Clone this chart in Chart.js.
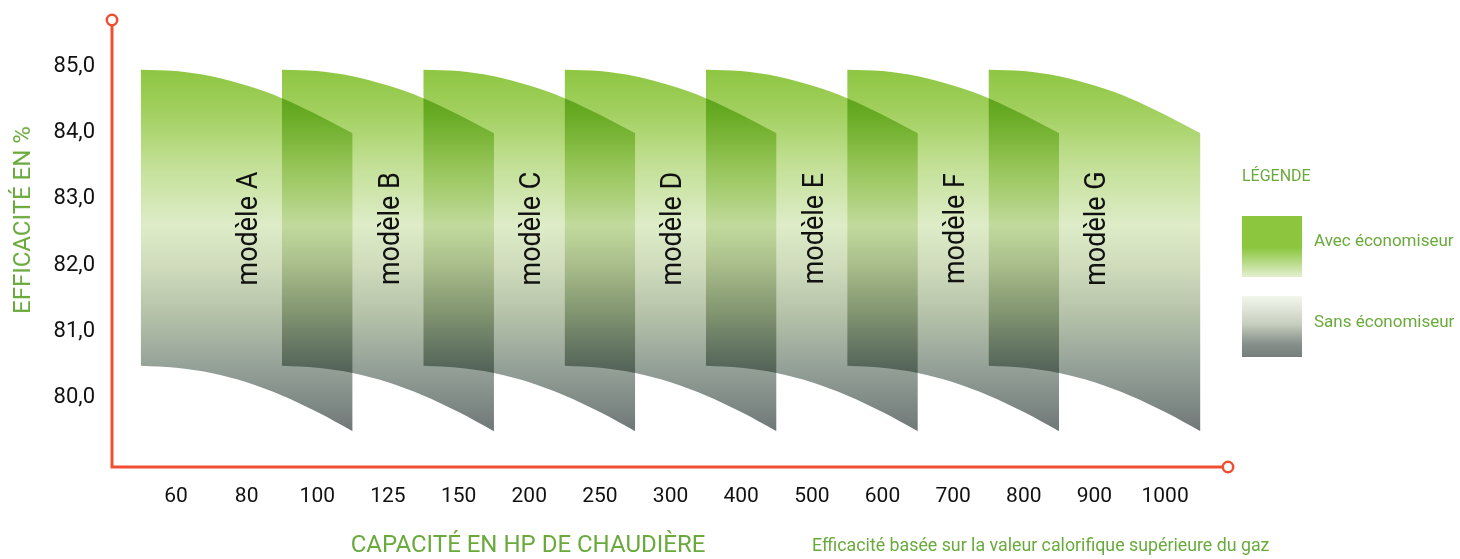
<!DOCTYPE html>
<html>
<head>
<meta charset="utf-8">
<script src="https://cdn.jsdelivr.net/npm/chart.js@4.4.1/dist/chart.umd.min.js"></script>
<style>
  body { margin: 0; background: #fff; }
  #wrap { position: relative; width: 1460px; height: 559px; font-family: Roboto, "Liberation Sans", sans-serif; }
  #chart { position: absolute; left: 0; top: 0; }
  .green { color: #6aaa3c; position: absolute; white-space: nowrap; }
  #ytitle { left: 22px; top: 220px; font-size: 24px; transform: translate(-50%, -50%) rotate(-90deg); }
  #xtitle { left: 528px; top: 544px; font-size: 24px; transform: translate(-50%, -50%); }
  #note { left: 812px; top: 544px; font-size: 17.8px; transform: translateY(-50%); }
  #legtitle { left: 1242px; top: 175px; font-size: 16px; transform: translateY(-50%); }
  .sw { position: absolute; left: 1242px; width: 60px; height: 61px; }
  #sw1 { top: 216px; background: linear-gradient(to bottom, #8cc63f 0%, #8cc63f 52%, #e3efcf 100%); }
  #sw2 { top: 296px; background: linear-gradient(to bottom, #f2f7eb 0%, #c8d0c0 45%, #87908b 78%, #767e7c 100%); }
  .legtxt { left: 1314px; font-size: 17px; transform: translateY(-50%); }
</style>
</head>
<body>
<div id="wrap">
  <canvas id="chart" width="1460" height="559"></canvas>
  <div class="green" id="ytitle">EFFICACITÉ EN %</div>
  <div class="green" id="xtitle">CAPACITÉ EN HP DE CHAUDIÈRE</div>
  <div class="green" id="note">Efficacité basée sur la valeur calorifique supérieure du gaz</div>
  <div class="green" id="legtitle">LÉGENDE</div>
  <div class="sw" id="sw1"></div>
  <div class="green legtxt" style="top:240px">Avec économiseur</div>
  <div class="sw" id="sw2"></div>
  <div class="green legtxt" style="top:321px">Sans économiseur</div>
</div>
<script>
// capacités (axe x), une position par étiquette
var capacities = ['60', '80', '100', '125', '150', '200', '250', '300', '400', '500', '600', '700', '800', '900', '1000'];
var models = ['modèle A', 'modèle B', 'modèle C', 'modèle D', 'modèle E', 'modèle F', 'modèle G'];
// début de chaque bande, en positions de l'axe x
var modelStart = [-0.5, 1.5, 3.5, 5.5, 7.5, 9.5, 11.5];
// forme des bandes (identique pour tous les modèles)
var curveOffset = [0, 0.5, 1, 1.5, 2, 2.5, 3];
var withEco = [84.95, 84.93, 84.85, 84.71, 84.52, 84.27, 83.99];
var withoutEco = [80.48, 80.45, 80.37, 80.23, 80.03, 79.78, 79.49];
var yTicks = [80, 81, 82, 83, 84, 85];

var red = '#ef4f30';

function bandGradient(c) {
    var chart = c.chart;
    var y = chart.scales.y;
    if (!chart.chartArea || !y) return '#b5d48a';
    var g = chart.ctx.createLinearGradient(0, y.getPixelForValue(85), 0, y.getPixelForValue(79.5));
    var stops = [
        [85.0, 'rgb(140,198,63)'],
        [84.3, 'rgb(162,208,95)'],
        [83.5, 'rgb(195,224,150)'],
        [82.6, 'rgb(222,236,200)'],
        [82.0, 'rgb(208,220,188)'],
        [81.3, 'rgb(183,196,170)'],
        [80.5, 'rgb(150,163,153)'],
        [79.5, 'rgb(112,120,120)']
    ];
    for (var i = 0; i < stops.length; i++) {
        g.addColorStop((85 - stops[i][0]) / 5.5, stops[i][1]);
    }
    return g;
}

var datasets = [];
for (var m = 0; m < models.length; m++) {
    var upper = [], lower = [];
    for (var k = 0; k < curveOffset.length; k++) {
        upper.push({x: modelStart[m] + curveOffset[k], y: withEco[k]});
        lower.push({x: modelStart[m] + curveOffset[k], y: withoutEco[k]});
    }
    datasets.push({
        label: models[m],
        data: upper,
        fill: '+1',
        backgroundColor: bandGradient,
        borderWidth: 0,
        borderColor: 'transparent',
        pointRadius: 0,
        tension: 0.4,
        cubicInterpolationMode: 'monotone'
    });
    datasets.push({
        label: models[m] + ' bas',
        data: lower,
        fill: false,
        borderWidth: 0,
        borderColor: 'transparent',
        pointRadius: 0,
        tension: 0.4,
        cubicInterpolationMode: 'monotone'
    });
}

var bandsPlugin = {
    id: 'bands',
    beforeDatasetsDraw: function (chart) {
        chart.ctx.save();
        chart.ctx.globalCompositeOperation = 'multiply';
    },
    afterDatasetsDraw: function (chart) {
        var ctx = chart.ctx;
        ctx.restore();
        var xs = chart.scales.x, ys = chart.scales.y;
        ctx.save();
        ctx.fillStyle = '#111';
        ctx.font = '29px Roboto, "Liberation Sans", sans-serif';
        ctx.textAlign = 'center';
        ctx.textBaseline = 'middle';
        for (var i = 0; i < models.length; i++) {
            ctx.save();
            ctx.translate(xs.getPixelForValue(modelStart[i] + 1.55), ys.getPixelForValue(82.55));
            ctx.rotate(-Math.PI / 2);
            ctx.scale(0.93, 1);
            ctx.fillText(models[i], 0, 0);
            ctx.restore();
        }
        ctx.restore();
    },
    afterDraw: function (chart) {
        var ctx = chart.ctx, a = chart.chartArea;
        ctx.save();
        ctx.strokeStyle = red;
        ctx.lineWidth = 3;
        ctx.beginPath();
        ctx.moveTo(a.left, a.top + 5);
        ctx.lineTo(a.left, a.bottom);
        ctx.lineTo(a.right - 5, a.bottom);
        ctx.stroke();
        ctx.lineWidth = 2.5;
        ctx.fillStyle = '#fff';
        [[a.left, a.top], [a.right, a.bottom]].forEach(function (p) {
            ctx.beginPath();
            ctx.arc(p[0], p[1], 5.2, 0, Math.PI * 2);
            ctx.fill();
            ctx.stroke();
        });
        ctx.restore();
    }
};

new Chart(document.getElementById('chart'), {
    type: 'line',
    data: {datasets: datasets},
    options: {
        responsive: false,
        animation: false,
        events: [],
        layout: {padding: {top: 20, right: 232, left: 0, bottom: 0}},
        plugins: {legend: {display: false}, tooltip: {enabled: false}},
        scales: {
            x: {
                type: 'linear',
                min: -0.906,
                max: 14.89,
                grid: {display: false, drawTicks: false},
                border: {display: false},
                afterFit: function (s) {
                    s.height = 92;
                    s.paddingLeft = 0;
                    s.paddingRight = 0;
                },
                afterBuildTicks: function (s) {
                    s.ticks = capacities.map(function (c, i) { return {value: i}; });
                },
                ticks: {
                    padding: 17,
                    color: '#111',
                    font: {size: 21, family: 'Roboto, "Liberation Sans", sans-serif'},
                    maxRotation: 0,
                    autoSkip: false,
                    callback: function (v) { return capacities[v]; }
                }
            },
            y: {
                min: 78.95,
                max: 85.7,
                grid: {display: false, drawTicks: false},
                border: {display: false},
                afterFit: function (s) {
                    s.width = 112;
                    s.paddingTop = 0;
                    s.paddingBottom = 0;
                },
                afterBuildTicks: function (s) {
                    s.ticks = yTicks.map(function (v) { return {value: v}; });
                },
                ticks: {
                    padding: 17,
                    color: '#111',
                    font: {size: 22, family: 'Roboto, "Liberation Sans", sans-serif'},
                    callback: function (v) { return v.toFixed(1).replace('.', ','); }
                }
            }
        }
    },
    plugins: [bandsPlugin]
});
</script>
</body>
</html>
